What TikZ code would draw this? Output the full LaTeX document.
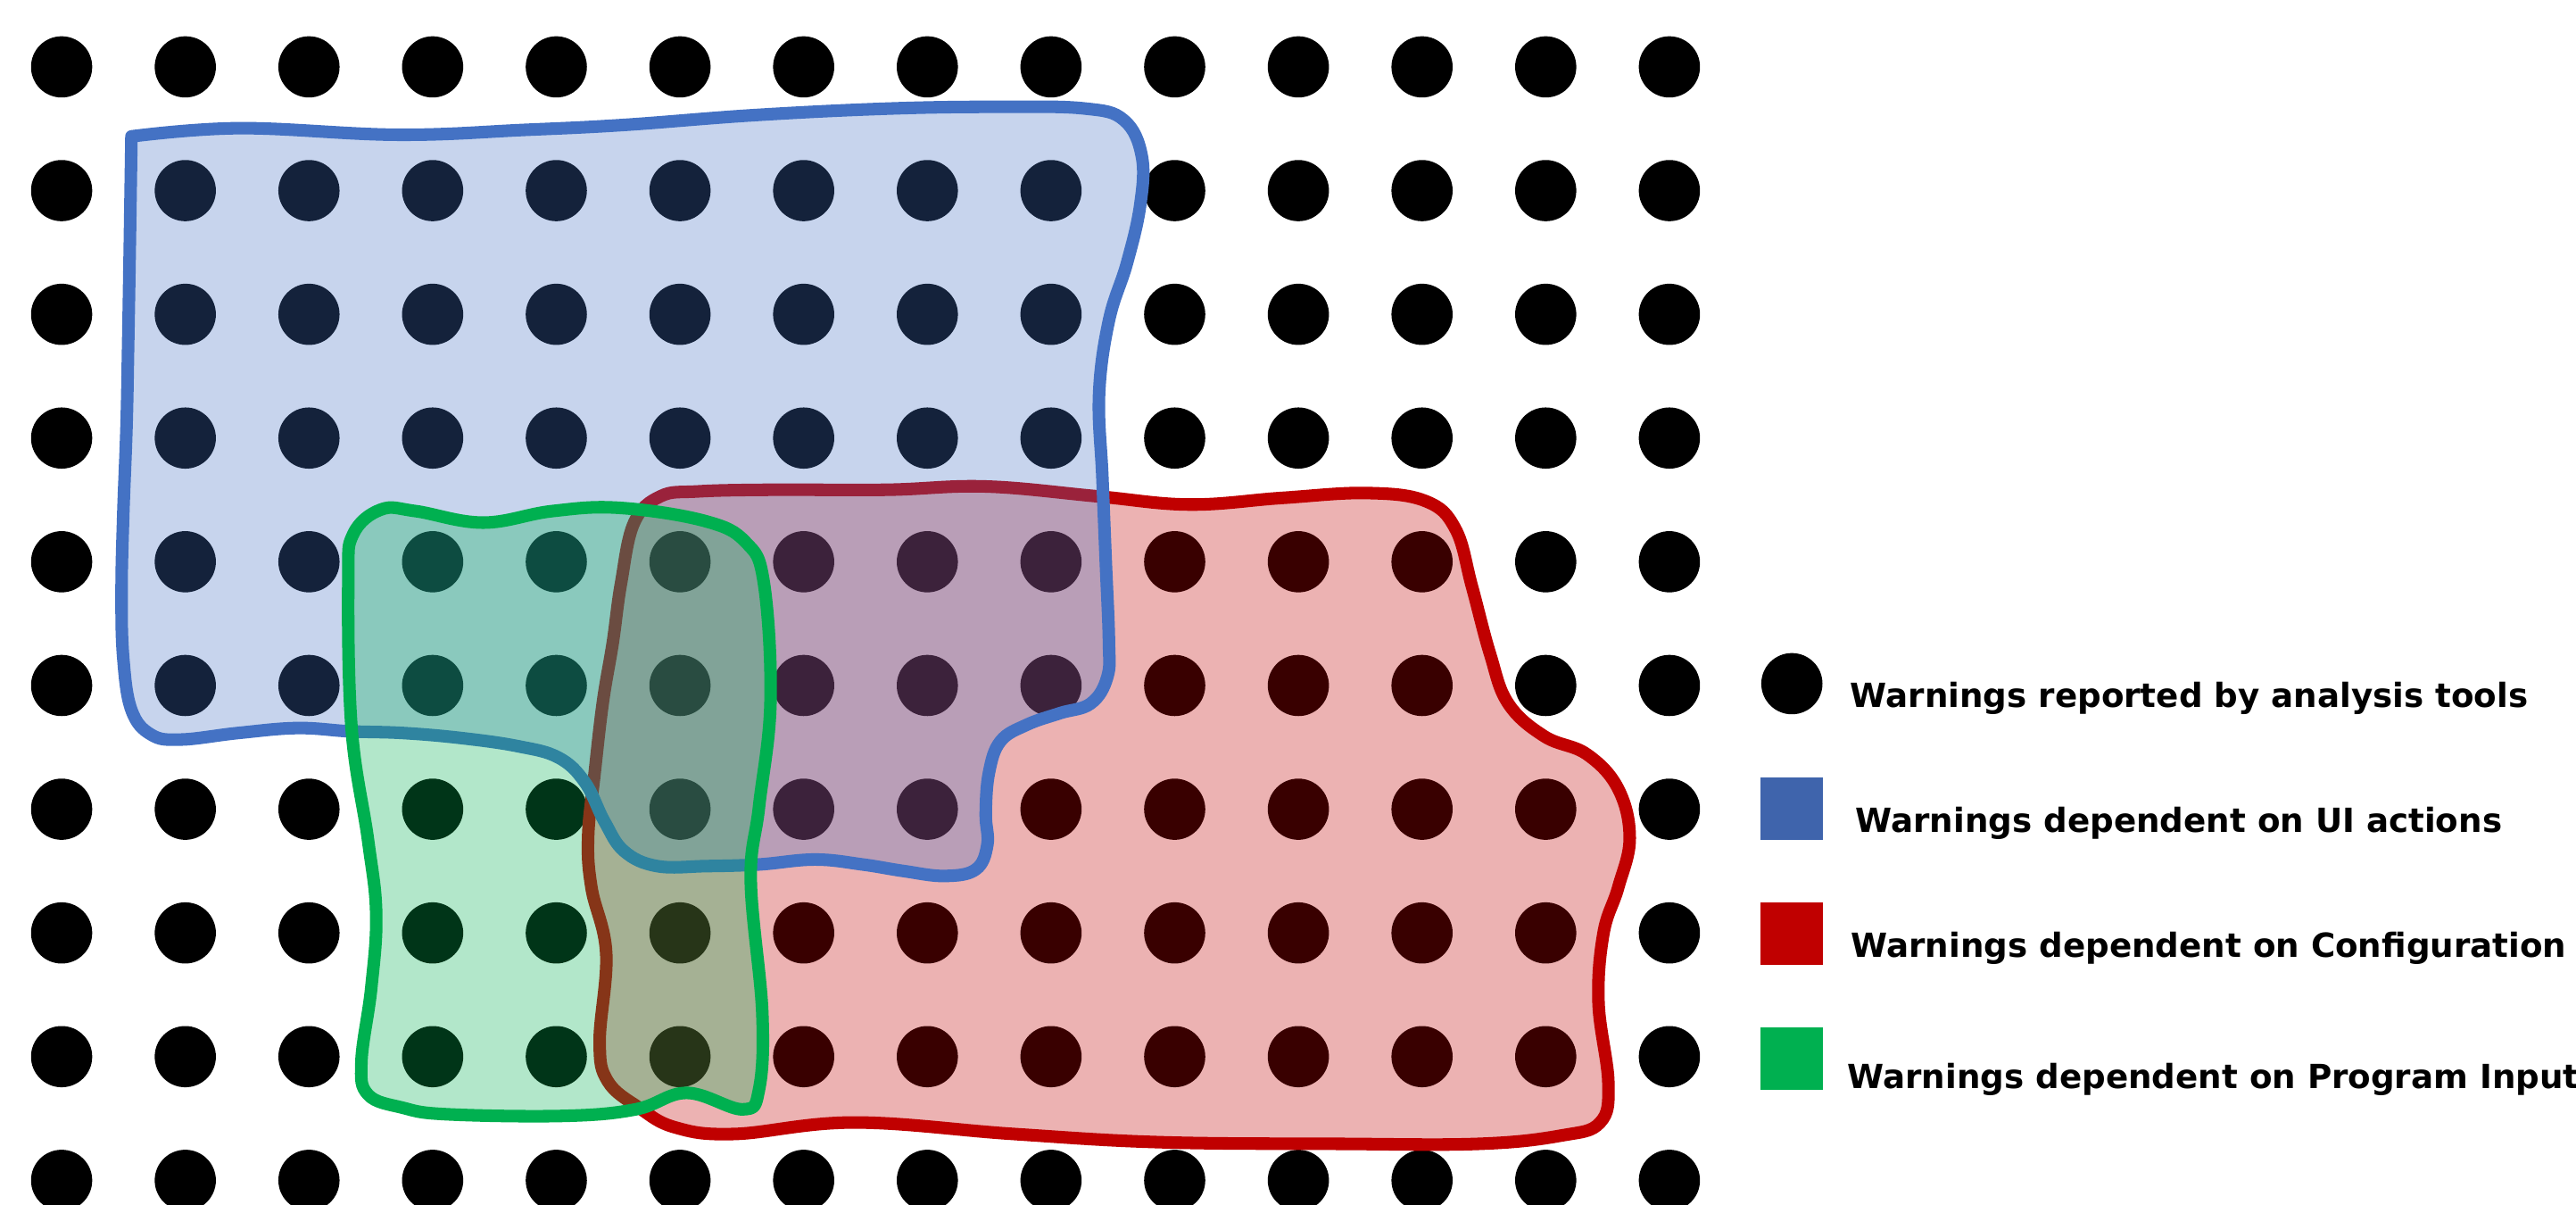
\documentclass[tikz,border=0pt]{standalone}
\usepackage{fontspec}
\usetikzlibrary{positioning}
\newfontfamily\legendfont{DejaVu Sans}
\definecolor{uiblue}{RGB}{68,114,196}
\definecolor{uilegend}{RGB}{63,100,172}
\definecolor{cfgred}{RGB}{192,0,0}
\definecolor{inpgreen}{RGB}{0,176,80}

\begin{document}
\begin{tikzpicture}[
    x=0.01841cm, y=-0.01841cm,
    node distance=0.69cm,
    warn/.style={circle, fill=black, minimum size=0.686cm, inner sep=0pt},
    region/.style={line width=4pt, line join=round, fill opacity=0.3},
    legsq/.style={minimum size=0.7cm, inner sep=0pt},
    legtxt/.style={inner sep=0pt, anchor=base west, yshift=-0.27cm, font=\legendfont\bfseries\fontsize{10.6}{12}\selectfont}
  ]
    \useasboundingbox (0,0) rectangle (1568,733);
    % grid of reported warnings
    \foreach \i in {0,...,13}
      \foreach \j in {0,...,9}
        \node[warn] (w\i-\j) at (37.5+75.28*\i, 40.7+75.28*\j) {};
    % configuration
    \draw[region, draw=cfgred, fill=cfgred] plot[smooth cycle, tension=0.65] coordinates {
      (373,391) (378,355) (386,318) (402,302) (425,299) (470,298) (540,298) (600,296)
      (668,302) (724,307) (780,303) (832,300) (868,305) (886,322) (896,357) (907,398)
      (918,428) (940,448) (966,459) (985,480) (992,510) (985,540) (976,568) (973,610)
      (979,659) (974,683) (950,691) (900,696) (815,696) (706,695) (617,690) (520,683)
      (447,690) (411,686) (389,674) (370,658) (365,634) (369,580) (360,540) (358,509)
      (362,470) (367,427)};
    % UI actions
    \draw[region, draw=uiblue, fill=uiblue] plot[smooth, tension=0.65] coordinates {
      (80,83) (146,78) (242,82) (320,79) (380,76) (460,70) (543,66) (610,65)
      (660,66) (684,73) (695,95) (694,125) (686,160) (675,195) (669,240) (671,290)
      (673,340) (675,390) (674,412) (664,428) (645,434) (625,441) (609,451) (602,470)
      (600,495) (601,514) (594,529) (575,533) (550,530) (525,526) (496,523) (462,526)
      (430,527) (400,527) (380,518) (368,500) (356,476) (340,461) (315,454) (280,449)
      (245,446) (213,445) (181,443) (145,446) (110,450) (92,447) (80,432) (75,400)
      (74,360) (75,314) (77,260) (78,210) (79,150) (80,83)} -- cycle;
    % program input
    \draw[region, draw=inpgreen, fill=inpgreen] plot[smooth cycle, tension=0.65] coordinates {
      (232,310) (253,311) (294,318) (336,311) (377,309) (429,317) (454,330) (465,355)
      (469,427) (462,491) (457,536) (464,616) (462,663) (452,675) (418,665) (387,675)
      (343,679) (272,678) (245,674) (224,666) (220,646) (226,601) (229,556) (224,511)
      (214,443) (212,353) (215,325)};
    % legend
    \node[warn] (lgdot) at (1090.7,416) {};
    \node[legsq, fill=uilegend, below=of lgdot] (lgui) {};
    \node[legsq, fill=cfgred, below=of lgui] (lgcfg) {};
    \node[legsq, fill=inpgreen, below=of lgcfg] (lginp) {};
    \node[right=0.3cm of lgdot, legtxt] (tdot) {Warnings reported by analysis tools};
    \node[right=0.35cm of lgui, legtxt] (tui) {Warnings dependent on UI actions};
    \node[right=0.3cm of lgcfg, legtxt] (tcfg) {Warnings dependent on Configuration};
    \node[right=0.26cm of lginp, legtxt, yshift=-0.06cm] (tinp) {Warnings dependent on Program Input};
  \end{tikzpicture}
\end{document}
